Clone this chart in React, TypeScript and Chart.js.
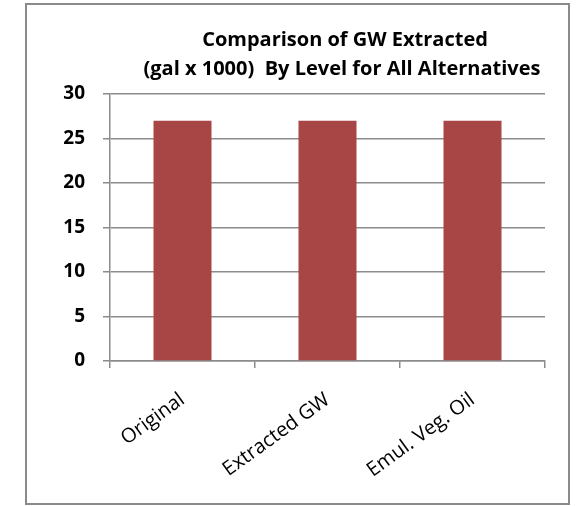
import React, { useEffect, useRef } from "react";
import { Chart, registerables } from "chart.js";

Chart.register(...registerables);

const categories = ["Original", "Extracted GW", "Emul. Veg. Oil"];
const values = [27, 27, 27];
const titleLines = ["Comparison of GW Extracted", "(gal x 1000)  By Level for All Alternatives"];
const yMin = 0;
const yMax = 30;
const yStep = 5;

const FONT = "'Open Sans', 'DejaVu Sans', sans-serif";
const GRID = "#8c8c8c";

const titlePlugin = {
  id: "customTitle",
  afterDraw(chart: any) {
    const ctx = chart.ctx;
    ctx.save();
    ctx.fillStyle = "#000";
    ctx.font = `bold 20px ${FONT}`;
    ctx.textAlign = "center";
    ctx.textBaseline = "middle";
    ctx.fillText(titleLines[0], 345, 40);
    ctx.fillText(titleLines[1], 342, 69);
    ctx.restore();
  },
};

export default function App() {
  const ref = useRef<HTMLCanvasElement>(null);
  useEffect(() => {
    if (!ref.current) return;
    const chart = new Chart(ref.current, {
      type: "bar",
      data: {
        labels: categories,
        datasets: [
          {
            data: values,
            backgroundColor: "#A84645",
            categoryPercentage: 1,
            barPercentage: 0.4,
          },
        ],
      },
      options: {
        animation: false,
        responsive: false,
        devicePixelRatio: 1,
        layout: { padding: { top: 94, right: 34, left: 0, bottom: 0 } },
        plugins: { legend: { display: false }, tooltip: { enabled: false }, title: { display: false } },
        scales: {
          x: {
            afterFit(scale: any) {
              scale.height = 145;
            },
            grid: { display: true, drawOnChartArea: false, drawTicks: true, tickLength: 7, color: GRID, lineWidth: 1.5, offset: true },
            border: { display: true, color: GRID, width: 1.5 },
            ticks: {
              maxRotation: 36,
              minRotation: 36,
              padding: 20,
              color: "#000",
              font: { family: FONT, size: 20 },
            },
          },
          y: {
            min: yMin,
            max: yMax,
            afterFit(scale: any) {
              scale.width = 110;
            },
            grid: { color: GRID, lineWidth: 1.5, tickLength: 7 },
            border: { display: true, color: GRID, width: 1.5 },
            ticks: {
              stepSize: yStep,
              padding: 18,
              color: "#000",
              font: { family: FONT, size: 19, weight: "bold" },
            },
          },
        },
      },
      plugins: [titlePlugin],
    });
    return () => chart.destroy();
  }, []);
  return (
    <div style={{ position: "absolute", left: 0, top: 0, width: 579, height: 506, background: "#fff" }}>
      <div
        style={{
          position: "absolute",
          left: 25,
          top: 3,
          width: 541,
          height: 498,
          border: "2px solid #8a8a8a",
        }}
      />
      <canvas ref={ref} width={579} height={506} style={{ position: "absolute", left: 0, top: 0, width: 579, height: 506 }} />
    </div>
  );
}
